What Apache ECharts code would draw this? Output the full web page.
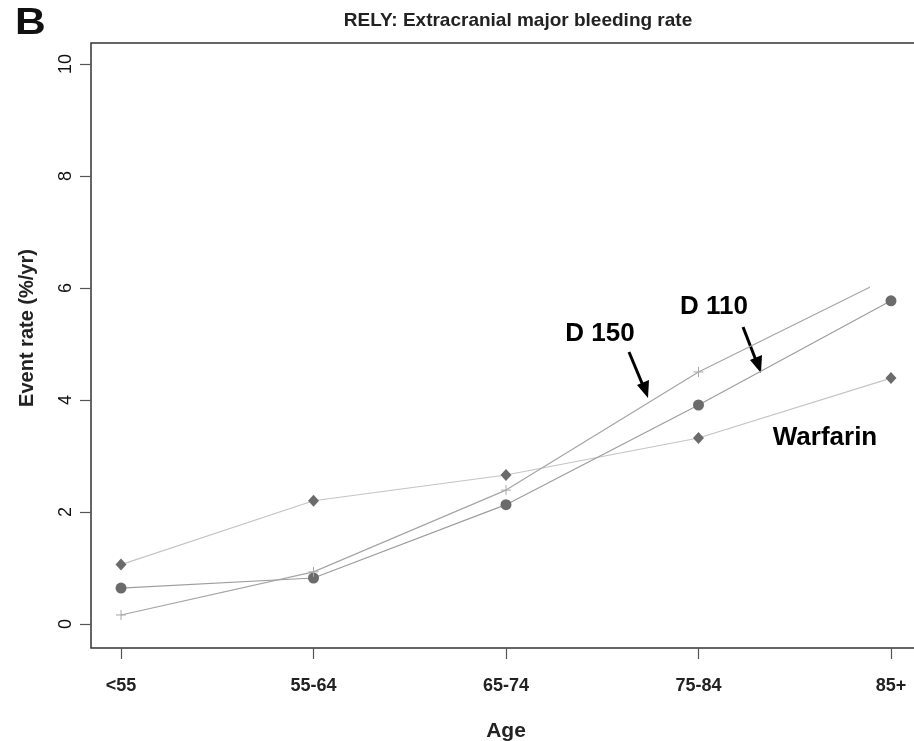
<!DOCTYPE html>
<html>
<head>
<meta charset="utf-8">
<script src="https://cdn.jsdelivr.net/npm/echarts@6/dist/echarts.min.js"></script>
<style>html,body{margin:0;padding:0;background:#fff;}#c{width:914px;height:741px;}</style>
</head>
<body>
<div id="c"></div>
<script>
const categories = ['<55', '55-64', '65-74', '75-84', '85+'];
const warfarin = [1.06, 2.2, 2.66, 3.32, 4.39];
const d110 = [0.64, 0.82, 2.13, 3.91, 5.77];
const d150 = [0.16, 0.93, 2.39, 4.5, 6.2];
const yTicks = [0, 2, 4, 6, 8, 10];
const xTicks = [0, 1, 2, 3, 4];

const pair = arr => arr.map((v, i) => [i, v]);
const FONT = '"Liberation Sans", Arial, sans-serif';
const chart = echarts.init(document.getElementById('c'));
chart.setOption({
  animation: false,
  backgroundColor: '#fff',
  grid: { left: 91, right: -7, top: 43, bottom: 93, show: true, borderColor: '#333', borderWidth: 1.5, containLabel: false, outerBoundsMode: 'none' },
  title: {
    text: 'RELY: Extracranial major bleeding rate',
    left: 513, top: 6, textAlign: 'center',
    textStyle: { fontFamily: FONT, fontWeight: 'bold', fontSize: 19, color: '#222' }
  },
  xAxis: {
    type: 'value', min: -0.156, max: 4.156,
    name: 'Age', nameLocation: 'middle', nameGap: 73,
    nameTextStyle: { fontFamily: FONT, fontWeight: 'bold', fontSize: 21, color: '#222' },
    axisLine: { show: false, onZero: false },
    splitLine: { show: false },
    axisTick: { show: true, customValues: xTicks, length: 11, lineStyle: { color: '#555', width: 1.2 } },
    axisLabel: { customValues: xTicks, formatter: v => categories[v], margin: 29, fontFamily: FONT, fontWeight: 'bold', fontSize: 18, color: '#222' }
  },
  yAxis: {
    type: 'value', min: -0.43, max: 10.375,
    axisLine: { show: false, onZero: false },
    splitLine: { show: false },
    axisTick: { show: true, customValues: yTicks, length: 11, lineStyle: { color: '#555', width: 1.2 } },
    axisLabel: { customValues: yTicks, rotate: 90, margin: 16, fontFamily: FONT, fontSize: 18, color: '#111' }
  },
  series: [
    {
      name: 'Warfarin', type: 'line', data: pair(warfarin),
      symbol: 'diamond', symbolSize: [11, 12],
      itemStyle: { color: '#6b6b6b' },
      lineStyle: { color: '#c4c4c4', width: 1.2 }
    },
    {
      name: 'D 110', type: 'line', data: pair(d110),
      symbol: 'circle', symbolSize: 11,
      itemStyle: { color: '#6b6b6b' },
      lineStyle: { color: '#9d9d9d', width: 1.2 }
    },
    {
      name: 'D 150', type: 'line', data: pair(d150).map((p, i) => i === 4 ? { value: p, symbol: 'none' } : p),
      symbol: 'path://M0,5L10,5M5,0L5,10', symbolSize: 10,
      itemStyle: { color: 'none', borderColor: '#a8a8a8', borderWidth: 1 },
      lineStyle: {
        width: 1.2,
        color: {
          type: 'linear', x: 0, y: 0, x2: 1, y2: 0,
          colorStops: [
            { offset: 0, color: '#a5a5a5' },
            { offset: 0.97, color: '#a5a5a5' },
            { offset: 0.97, color: 'rgba(255,255,255,0)' },
            { offset: 1, color: 'rgba(255,255,255,0)' }
          ]
        }
      }
    }
  ],
  graphic: [
    { type: 'text', x: 15, y: 5, scaleX: 1.15, style: { text: 'B', fontFamily: FONT, fontWeight: 'bold', fontSize: 37, fill: '#111' } },
    { type: 'text', x: 27, y: 328, rotation: Math.PI / 2, style: { text: 'Event rate (%/yr)', align: 'center', verticalAlign: 'middle', fontFamily: FONT, fontWeight: 'bold', fontSize: 20, fill: '#222' } },
    { type: 'text', x: 600, y: 334, style: { text: 'D 150', align: 'center', verticalAlign: 'middle', fontFamily: FONT, fontWeight: 'bold', fontSize: 26, fill: '#000' } },
    { type: 'text', x: 714, y: 307, style: { text: 'D 110', align: 'center', verticalAlign: 'middle', fontFamily: FONT, fontWeight: 'bold', fontSize: 26, fill: '#000' } },
    { type: 'text', x: 825, y: 438, style: { text: 'Warfarin', align: 'center', verticalAlign: 'middle', fontFamily: FONT, fontWeight: 'bold', fontSize: 26, fill: '#000' } },
    { type: 'line', shape: { x1: 629, y1: 352, x2: 644, y2: 388 }, style: { stroke: '#000', lineWidth: 3 } },
    { type: 'polygon', shape: { points: [[648, 398], [637, 385], [649, 380]] }, style: { fill: '#000' } },
    { type: 'line', shape: { x1: 743, y1: 327, x2: 757, y2: 363 }, style: { stroke: '#000', lineWidth: 3 } },
    { type: 'polygon', shape: { points: [[761, 373], [750, 360], [762, 355]] }, style: { fill: '#000' } }
  ]
});
</script>
</body>
</html>
